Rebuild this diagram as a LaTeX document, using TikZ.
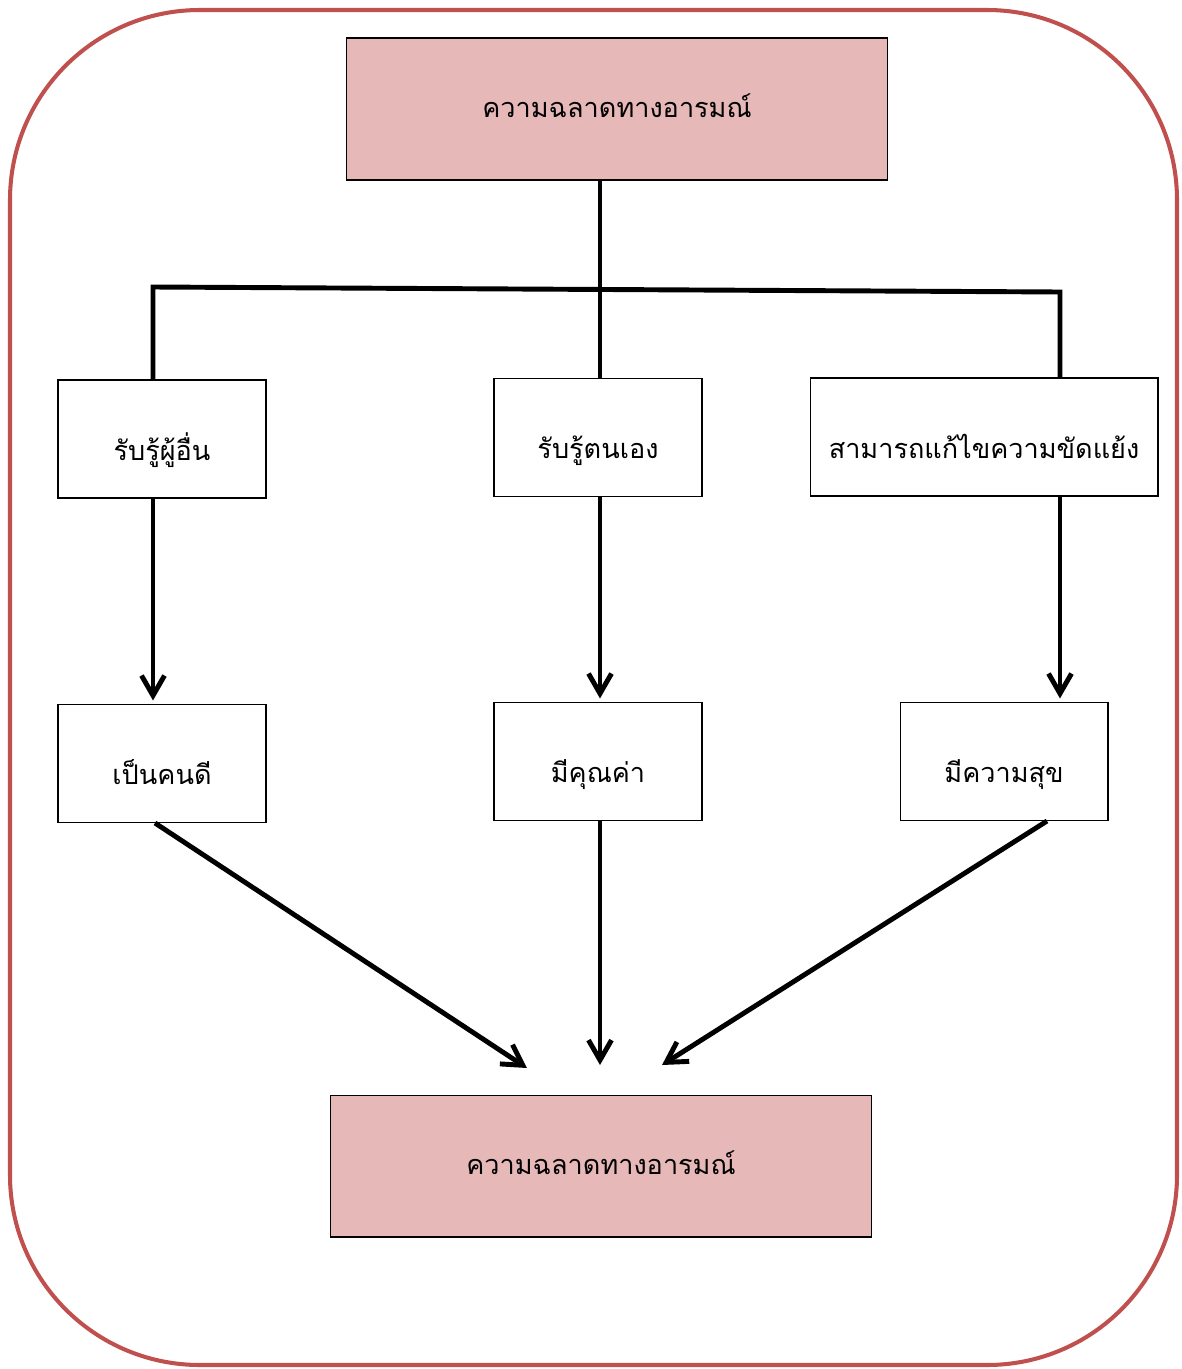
\documentclass[tikz,border=0pt]{standalone}
\usepackage{fontspec}
\newfontfamily\thaifont[Script=Thai]{Loma}
\usetikzlibrary{arrows.meta}
\definecolor{framered}{HTML}{C0504D}
\definecolor{pinkfill}{HTML}{E6B8B7}

\begin{document}
\begin{tikzpicture}[x=0.02cm,y=-0.02cm,
    box/.style={draw,line width=0.6pt,inner sep=0pt,align=center,text depth=0pt,
      font=\thaifont\fontsize{15.4}{18}\selectfont},
    headbox/.style={box,fill=pinkfill,minimum width=10.84cm,minimum height=2.84cm,
      text height=9.6pt},
    smallbox/.style={box,minimum width=4.16cm,minimum height=2.36cm,text height=24pt},
    conn/.style={line width=2.8pt},
    arr/.style={conn,-{Straight Barb[length=0.4cm,width=0.46cm,line width=2.8pt]}}]
  \useasboundingbox (0,0) rectangle (1182,1369);
  \draw[framered,line width=2.3pt,rounded corners=3.8cm] (10,10) rectangle (1177,1365);
  % boxes
  \node[headbox] (top) at (617,109) {ความฉลาดทางอารมณ์};
  \node[smallbox] (l1) at (162,439) {รับรู้ผู้อื่น};
  \node[smallbox] (m1) at (598,437.5) {รับรู้ตนเอง};
  \node[smallbox,minimum width=6.96cm] (r1) at (984,437) {สามารถแก้ไขความขัดแย้ง};
  \node[smallbox] (l2) at (162,763.5) {เป็นคนดี};
  \node[smallbox] (m2) at (598,761.5) {มีคุณค่า};
  \node[smallbox] (r2) at (1004,761.5) {มีความสุข};
  \node[headbox] (bot) at (601,1166) {ความฉลาดทางอารมณ์};
  % branching lines
  \coordinate (hl) at (153,287); \coordinate (hr) at (1060,292);
  \coordinate (mx) at (600,0);
  \draw[conn] (top.south -| mx) -- (m1.north -| mx);
  \draw[conn] (l1.north -| hl) -- (hl) -- (hr) -- (r1.north -| hr);
  \foreach \a/\b/\c in {l1/l2/hl,m1/m2/mx,r1/r2/hr}
    \draw[arr] (\a.south -| \c) -- ([yshift=2pt]\b.north -| \c);
  % arrows to the result
  \coordinate (s1) at (155,823); \coordinate (e1) at (527,1068);
  \coordinate (s3) at (1047,821); \coordinate (e3) at (662,1065);
  \draw[arr] (s1) -- (e1);
  \draw[arr] (m2.south -| mx) -- (600,1065);
  \draw[arr] (s3) -- (e3);
\end{tikzpicture}
\end{document}
